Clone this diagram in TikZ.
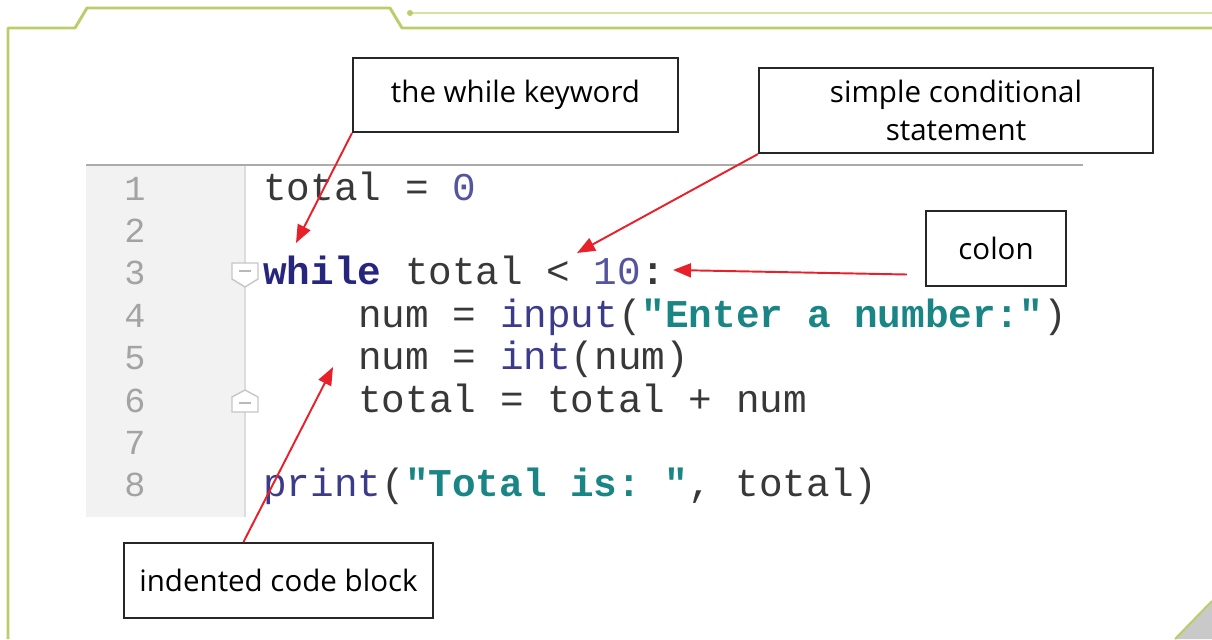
\documentclass[tikz,border=0pt]{standalone}
\usepackage{fontspec}
\setmainfont{Open Sans}
\setmonofont{Liberation Mono}
\usetikzlibrary{arrows.meta,positioning}
\definecolor{frameg}{HTML}{B9CE6B}
\definecolor{frameh}{HTML}{D5E2A0}
\definecolor{gutter}{HTML}{F2F2F2}
\definecolor{gutline}{HTML}{DCDCDC}
\definecolor{topline}{HTML}{ABABAB}
\definecolor{lnum}{HTML}{A3A3A3}
\definecolor{txc}{HTML}{383838}
\definecolor{kwc}{HTML}{26267E}
\definecolor{numc}{HTML}{55559E}
\definecolor{fnc}{HTML}{3B3B8A}
\definecolor{strc}{HTML}{1A8585}
\definecolor{callred}{HTML}{E8202A}
\definecolor{cornerg}{HTML}{C9C9C9}
\newcommand\kwd[1]{\textcolor{kwc}{\bfseries #1}}
\newcommand\num[1]{\textcolor{numc}{#1}}
\newcommand\fnm[1]{\textcolor{fnc}{#1}}
\newcommand\strg[1]{\textcolor{strc}{\bfseries #1}}
\tikzset{
  frame/.style={frameg,line width=1.7pt,line join=round},
  lbox/.style={draw=black!85,line width=1.2pt,fill=white,font=\fontsize{16.8}{21.6}\selectfont,align=center,inner sep=0pt},
  code/.style={anchor=base west,inner sep=0pt,text=txc,font=\ttfamily\fontsize{22.4}{26}\selectfont},
  lno/.style={anchor=base,inner sep=0pt,text=lnum,font=\ttfamily\fontsize{20}{24}\selectfont},
  fold/.style={draw=gray!45,fill=white,line width=0.8pt},
  callout/.style={callred,line width=1.1pt,-{Triangle[length=3.6mm,width=2.8mm]}},
}
\begin{document}
\begin{tikzpicture}[x=0.02cm,y=-0.02cm]
  \useasboundingbox (0,0) rectangle (1212,639);
  % ===================== frame =====================
  \draw[frame] (8,639) -- (8,28) -- (75,28) -- (87,8) -- (390,8) -- (402,28) -- (1212,28);
  \draw[frameh,line width=1.1pt] (410,13) -- (1212,13);
  \fill[frameg] (410,13) circle (3);
  \fill[cornerg] (1175,639) -- (1212,601) -- (1212,639) -- cycle;
  \draw[frameg,line width=1.2pt] (1175,639) -- (1212,601);
  % ===================== editor =====================
  \fill[gutter] (86,166) rectangle (245,517);
  \draw[gutline,line width=1pt] (245,166) -- (245,517);
  \draw[topline,line width=1.1pt] (86,165) -- (1083,165);
  \foreach \i in {1,...,8}
    \node[lno] (n\i) at (135,{200+(\i-1)*42.4}) {\i};
  \node[code] (l1) at (263,200.0) {total = \num{0}};
  \node[code] (l3) at (263,284.8) {\kwd{while} total < \num{10}\textbf{:}};
  \node[code] (l4) at (358,327.2) {num = \fnm{input}(\strg{"Enter a number:"})};
  \node[code] (l5) at (358,369.6) {num = \fnm{int}(num)};
  \node[code] (l6) at (358,412.0) {total = total + num};
  \node[code] (l8) at (263,496.8) {\fnm{print}(\strg{"Total is: "}, total)};
  % fold markers
  \draw[fold] (232,263) -- (258,263) -- (258,279) -- (245,287) -- (232,279) -- cycle;
  \draw[gray!55,line width=0.6pt] (239,271) -- (251,271);
  \draw[fold] (232,412) -- (258,412) -- (258,397) -- (245,390) -- (232,397) -- cycle;
  \draw[gray!55,line width=0.6pt] (239,403) -- (251,403);
  % ===================== labels =====================
  \node[lbox,minimum width=6.5cm,minimum height=1.48cm] (kw) at (515.5,95) {the while keyword};
  \node[lbox,minimum width=7.88cm,minimum height=1.7cm] (cond) at (956,110.5) {simple conditional\\statement};
  \node[lbox,minimum width=2.8cm,minimum height=1.5cm] (colon) at (996,248.5) {colon};
  \node[lbox,minimum width=6.18cm,minimum height=1.5cm] (ind) at (278.5,580.5) {indented code block};
  \coordinate (whiletip) at (296,243);
  \coordinate (condtip) at (577,253);
  \coordinate (colontip) at (673,270);
  \coordinate (codetip) at (333,367);
  \draw[callout] (kw.south west) -- (whiletip);
  \draw[callout] (cond.south west) -- (condtip);
  \draw[callout] ([shift={(-18,26)}]colon.west) -- (colontip);
  \draw[callout] ([shift={(-35,0)}]ind.north) -- (codetip);
\end{tikzpicture}
\end{document}
